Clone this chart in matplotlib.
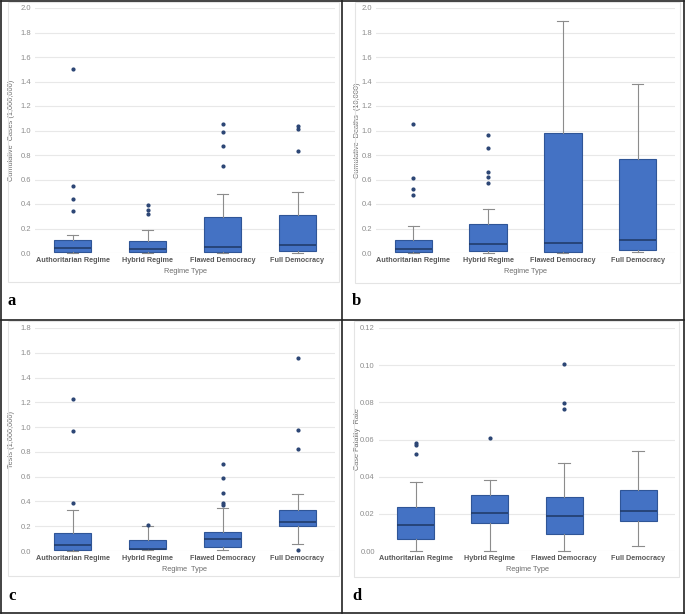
import matplotlib.pyplot as plt
from matplotlib.lines import Line2D
from matplotlib.patches import Rectangle

plt.rcParams["font.family"] = ["Liberation Sans", "DejaVu Sans"]

regimes = ["Authoritarian Regime", "Hybrid Regime", "Flawed Democracy", "Full Democracy"]

# a: cumulative cases (1,000,000)
cases_low = [0.0, 0.0, 0.0, 0.0]
cases_q1 = [0.01, 0.01, 0.005, 0.015]
cases_med = [0.04, 0.03, 0.05, 0.065]
cases_q3 = [0.105, 0.10, 0.29, 0.31]
cases_high = [0.145, 0.19, 0.485, 0.50]
cases_out = [[0.34, 0.44, 0.55, 1.50], [0.32, 0.35, 0.39], [0.71, 0.87, 0.99, 1.05], [0.83, 1.01, 1.04]]

# b: cumulative deaths (10,000)
deaths_low = [0.0, 0.0, 0.0, 0.005]
deaths_q1 = [0.005, 0.02, 0.01, 0.025]
deaths_med = [0.03, 0.07, 0.08, 0.11]
deaths_q3 = [0.11, 0.24, 0.98, 0.77]
deaths_high = [0.22, 0.36, 1.89, 1.38]
deaths_out = [[0.47, 0.52, 0.61, 1.05], [0.57, 0.62, 0.66, 0.86, 0.96], [], []]

# c: tests (1,000,000)
tests_low = [0.0, 0.005, 0.005, 0.054]
tests_q1 = [0.01, 0.015, 0.03, 0.204]
tests_med = [0.047, 0.02, 0.097, 0.231]
tests_q3 = [0.148, 0.086, 0.156, 0.33]
tests_high = [0.33, 0.205, 0.344, 0.457]
tests_out = [[0.385, 0.97, 1.23], [0.21], [0.37, 0.39, 0.47, 0.59, 0.70], [0.005, 0.82, 0.98, 1.56]]

# d: case fatality rate
cfr_low = [0.0, 0.0, 0.0, 0.0027]
cfr_q1 = [0.0066, 0.0152, 0.0093, 0.016]
cfr_med = [0.014, 0.0206, 0.019, 0.0217]
cfr_q3 = [0.0239, 0.0303, 0.0289, 0.033]
cfr_high = [0.0371, 0.0384, 0.0474, 0.0536]
cfr_out = [[0.052, 0.057, 0.058], [0.0606], [0.0764, 0.0798, 0.1004], []]

W, H = 685, 615
fig = plt.figure(figsize=(W / 100, H / 100), dpi=100)
fig.patch.set_facecolor("white")


def px_rect(x0, y0, x1, y1):
    return [x0 / W, 1 - y1 / H, (x1 - x0) / W, (y1 - y0) / H]


def make_stats(low, q1, med, q3, high, out):
    stats = []
    for i in range(len(low)):
        stats.append({"whislo": low[i], "q1": q1[i], "med": med[i], "q3": q3[i],
                      "whishi": high[i], "fliers": out[i], "label": regimes[i]})
    return stats


def panel(rect, frame, stats, ylim, yticks, fmt, ylabel, ylabel_x, xlabel, letter, letter_xy):
    # light frame around each chart
    fx0, fy0, fx1, fy1 = frame
    fig.patches.append(Rectangle((fx0 / W, 1 - fy1 / H), (fx1 - fx0) / W, (fy1 - fy0) / H,
                                 transform=fig.transFigure, fill=False,
                                 edgecolor="#E4E4E4", linewidth=0.8))
    ax = fig.add_axes(px_rect(*rect))
    ax.bxp(stats, positions=range(len(stats)), widths=0.5, capwidths=0.15,
           patch_artist=True, showfliers=True,
           boxprops=dict(facecolor="#4472C4", edgecolor="#2F5597", linewidth=0.8),
           medianprops=dict(color="#1F3864", linewidth=1.1),
           whiskerprops=dict(color="#8C8C8C", linewidth=0.8),
           capprops=dict(color="#8C8C8C", linewidth=0.8),
           flierprops=dict(marker="o", markersize=2, markerfacecolor="#2B4574",
                           markeredgecolor="#2B4574", linestyle="none"))
    for art in ax.get_children():
        if hasattr(art, "set_clip_on"):
            art.set_clip_on(False)
    ax.set_xlim(-0.5, len(stats) - 0.5)
    ax.set_ylim(*ylim)
    ax.set_yticks(yticks)
    ax.set_yticklabels([fmt % v for v in yticks], fontsize=5.5, color="#8C8C8C")
    ax.set_xticks(range(len(stats)))
    ax.set_xticklabels(regimes, fontsize=5.2, color="#595959", fontweight="bold")
    ax.tick_params(length=0, axis="y", pad=3)
    ax.tick_params(length=0, axis="x", pad=3)
    for s in ax.spines.values():
        s.set_visible(False)
    ax.grid(axis="y", color="#E8E8E8", linewidth=0.8)
    ax.set_axisbelow(True)
    ax.set_ylabel(ylabel, fontsize=5.3, color="#6E6E6E")
    ax.yaxis.set_label_coords((ylabel_x - rect[0]) / (rect[2] - rect[0]), 0.5)
    ax.set_xlabel(xlabel, fontsize=5.3, color="#6E6E6E", labelpad=3)
    fig.text(letter_xy[0] / W, 1 - letter_xy[1] / H, letter, fontsize=12,
             fontweight="bold", family="Liberation Serif", va="center", ha="left")
    return ax


panel((35, 8, 335, 253), (8, 2, 339, 282),
      make_stats(cases_low, cases_q1, cases_med, cases_q3, cases_high, cases_out),
      (0, 2.0), [0, 0.2, 0.4, 0.6, 0.8, 1.0, 1.2, 1.4, 1.6, 1.8, 2.0], "%.1f",
      "Cumulative  Cases (1,000,000)", 15, "Regime Type", "a", (8, 301))

panel((376, 8, 675, 253), (355, 2, 680, 283),
      make_stats(deaths_low, deaths_q1, deaths_med, deaths_q3, deaths_high, deaths_out),
      (0, 2.0), [0, 0.2, 0.4, 0.6, 0.8, 1.0, 1.2, 1.4, 1.6, 1.8, 2.0], "%.1f",
      "Cumulative  Deaths  (10,000)", 361, "Regime Type", "b", (352, 301))

panel((35, 328, 335, 551), (8, 321, 339, 576),
      make_stats(tests_low, tests_q1, tests_med, tests_q3, tests_high, tests_out),
      (0, 1.8), [0, 0.2, 0.4, 0.6, 0.8, 1.0, 1.2, 1.4, 1.6, 1.8], "%.1f",
      "Tests (1,000,000)", 15, "Regime  Type", "c", (8, 596))

panel((379, 328, 675, 551), (354, 321, 679, 577),
      make_stats(cfr_low, cfr_q1, cfr_med, cfr_q3, cfr_high, cfr_out),
      (0, 0.12), [0, 0.02, 0.04, 0.06, 0.08, 0.10, 0.12], "%.2f",
      "Case Fatality  Rate", 361, "Regime Type", "d", (352, 596))

# black panel dividers and outer border
for (x0, y0, x1, y1) in [(1, 1, 684, 1), (1, 613, 684, 613), (1, 1, 1, 613), (684, 1, 684, 613),
                         (342, 1, 342, 613), (1, 320, 684, 320)]:
    fig.lines.append(Line2D([x0 / W, x1 / W], [1 - y0 / H, 1 - y1 / H],
                            transform=fig.transFigure, color="#222222", linewidth=1.2))

fig.savefig("out.png", dpi=100)
